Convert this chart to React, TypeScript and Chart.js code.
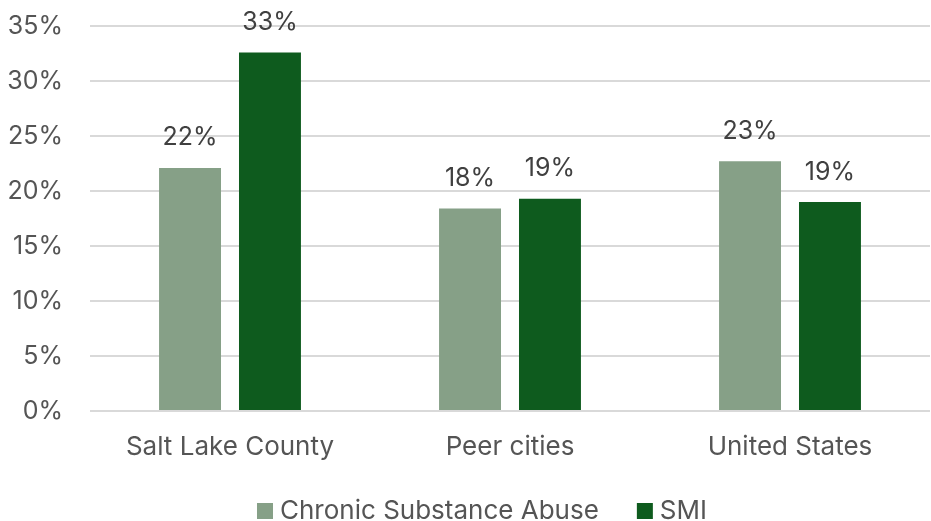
import React, { useEffect, useRef } from "react";
import { Chart, registerables } from "chart.js";

Chart.register(...registerables);

// Share of population by region (percent)
const categories = ["Salt Lake County", "Peer cities", "United States"];
const chronicSubstanceAbuse = [22.1, 18.4, 22.7];
const smi = [32.6, 19.3, 19.0];
const seriesNames = ["Chronic Substance Abuse", "SMI"];
const yTicks = [0, 5, 10, 15, 20, 25, 30, 35];

const FONT = "Inter, 'Liberation Sans', sans-serif";
const LIGHT_GREEN = "#86a087";
const DARK_GREEN = "#0e5b1e";
const AXIS_TEXT = "#555555";

// Percent labels above each bar
const valueLabels = {
  id: "valueLabels",
  afterDatasetsDraw(chart: Chart) {
    const { ctx } = chart;
    ctx.save();
    ctx.font = `25px ${FONT}`;
    ctx.fillStyle = "#404040";
    ctx.textAlign = "center";
    ctx.textBaseline = "middle";
    chart.data.datasets.forEach((ds, i) => {
      const meta = chart.getDatasetMeta(i);
      meta.data.forEach((el: any, j: number) => {
        const v = ds.data[j] as number;
        ctx.fillText(`${Math.round(v)}%`, el.x, el.y - 30);
      });
    });
    ctx.restore();
  },
};

// Bottom legend with square swatches
const bottomLegend = {
  id: "bottomLegend",
  afterDraw(chart: Chart) {
    const { ctx } = chart;
    ctx.save();
    ctx.font = `26px ${FONT}`;
    ctx.textBaseline = "middle";
    ctx.textAlign = "left";
    const box = 16;
    const gap = 7;
    const itemGap = 38;
    const items = chart.data.datasets.map((ds) => ({
      text: ds.label as string,
      color: ds.backgroundColor as string,
      w: ctx.measureText(ds.label as string).width,
    }));
    const total =
      items.reduce((s, it) => s + box + gap + it.w, 0) + itemGap * (items.length - 1);
    let x = 482 - total / 2;
    const cy = 511;
    items.forEach((it) => {
      ctx.fillStyle = it.color;
      ctx.fillRect(x, cy - box / 2, box, box);
      ctx.fillStyle = AXIS_TEXT;
      ctx.fillText(it.text, x + box + gap, cy);
      x += box + gap + it.w + itemGap;
    });
    ctx.restore();
  },
};

export default function App() {
  const ref = useRef<HTMLCanvasElement>(null);

  useEffect(() => {
    if (!ref.current) return;
    const chart = new Chart(ref.current, {
      type: "bar",
      data: {
        labels: categories,
        datasets: [
          {
            label: seriesNames[0],
            data: chronicSubstanceAbuse,
            backgroundColor: LIGHT_GREEN,
            categoryPercentage: 0.571,
            barPercentage: 0.775,
          },
          {
            label: seriesNames[1],
            data: smi,
            backgroundColor: DARK_GREEN,
            categoryPercentage: 0.571,
            barPercentage: 0.775,
          },
        ],
      },
      options: {
        animation: false,
        responsive: false,
        layout: { padding: { top: 26, right: 1, left: 0, bottom: 54 } },
        plugins: {
          tooltip: { enabled: false },
          legend: { display: false },
        },
        scales: {
          x: {
            grid: { display: false },
            border: { display: false },
            afterFit(scale: any) {
              scale.height = 56;
              scale.paddingLeft = 0;
              scale.paddingRight = 0;
            },
            ticks: {
              color: AXIS_TEXT,
              padding: 13,
              maxRotation: 0,
              font: { family: FONT, size: 26 },
            },
          },
          y: {
            min: 0,
            max: 35,
            afterFit(scale: any) {
              scale.width = 90;
              scale.paddingTop = 0;
              scale.paddingBottom = 0;
            },
            afterBuildTicks(scale: any) {
              scale.ticks = yTicks.map((v) => ({ value: v }));
            },
            grid: { color: "#d9d9d9", lineWidth: 2, drawTicks: false },
            border: { display: false },
            ticks: {
              color: AXIS_TEXT,
              padding: 27,
              font: { family: FONT, size: 25 },
              callback: (v: any) => `${v}%`,
            },
          },
        },
      },
      plugins: [valueLabels, bottomLegend],
    });
    return () => chart.destroy();
  }, []);

  return (
    <div style={{ position: "fixed", left: 0, top: 0, width: 931, height: 521, background: "#fff" }}>
      <canvas ref={ref} width={931} height={521} />
    </div>
  );
}
